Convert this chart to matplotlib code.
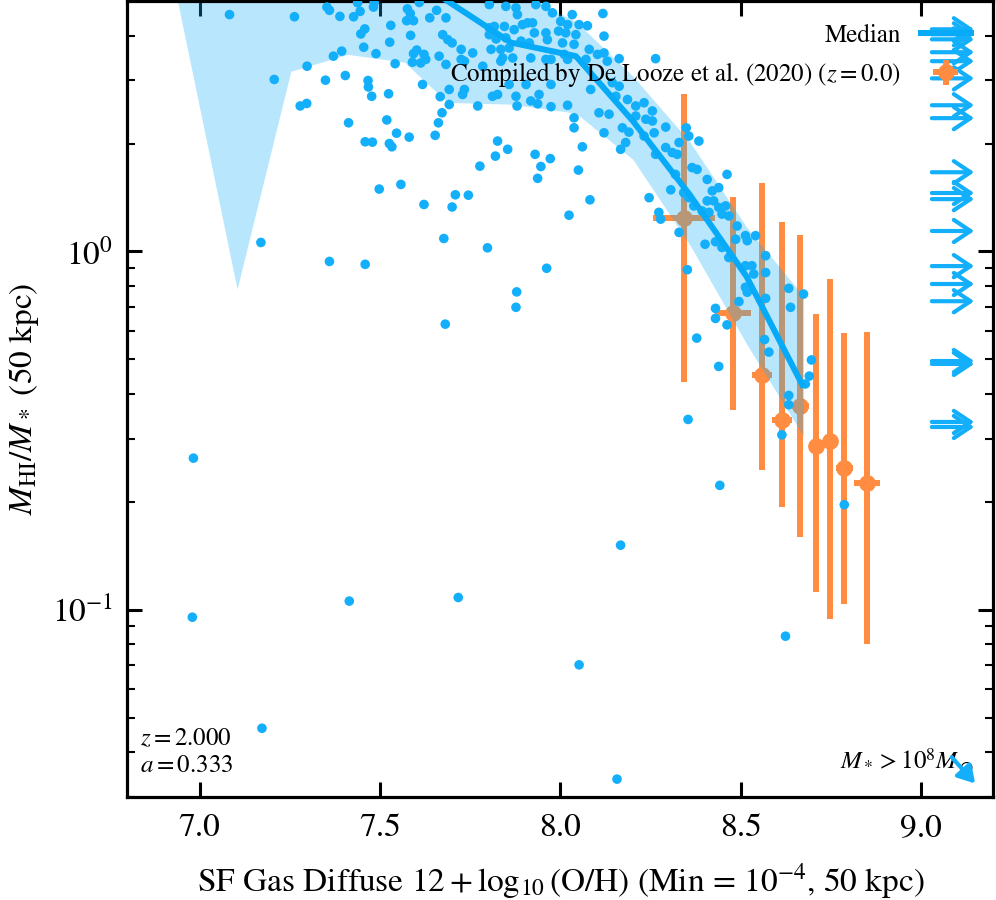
import numpy as np
import matplotlib
matplotlib.use("Agg")
import matplotlib.pyplot as plt
from matplotlib.lines import Line2D

plt.rcParams['font.family'] = ['STIXGeneral', 'DejaVu Serif']
plt.rcParams['mathtext.fontset'] = 'stix'

BLUE = '#14affa'
LINE_BLUE = '#06aaf6'
ORANGE = '#ff8c40'

# ---------------- simulated galaxies (x = 12+log10(O/H), log10 M_HI/M_*) ----------------
sim_x_a = [7.083, 7.263, 7.353, 7.360, 7.389, 7.427, 7.445, 7.438, 7.482, 7.484,
           7.458, 7.447, 7.455, 7.489, 7.530, 7.527, 7.576, 7.584, 7.574, 7.593,
           7.585, 7.609, 7.638, 7.657, 7.602, 7.593, 7.622, 7.590, 7.613, 7.627,
           7.664, 7.394, 7.371, 7.298, 7.207, 7.349, 7.404, 7.467, 7.468, 7.477,
           7.524, 7.542, 7.618, 7.279, 7.297, 7.413, 7.519, 7.546, 7.581, 7.459,
           7.479, 7.526, 7.533, 7.653, 7.662, 7.667,
           7.170, 7.360, 7.459, 7.498, 7.558, 7.622]
sim_logr_a = [0.661, 0.655, 0.682, 0.673, 0.656, 0.655, 0.670, 0.694, 0.682, 0.694,
              0.621, 0.607, 0.570, 0.552, 0.631, 0.584, 0.677, 0.664, 0.644, 0.644,
              0.603, 0.695, 0.652, 0.673, 0.562, 0.552, 0.550, 0.528, 0.526, 0.536,
              0.545, 0.559, 0.545, 0.517, 0.480, 0.478, 0.491, 0.477, 0.459, 0.433,
              0.440, 0.524, 0.466, 0.406, 0.413, 0.359, 0.367, 0.330, 0.319, 0.306,
              0.305, 0.301, 0.292, 0.324, 0.359, 0.432,
              0.025, -0.028, -0.036, 0.174, 0.187, 0.131]

sim_x_b = [7.683, 7.674, 7.688, 7.700, 7.725, 7.757, 7.683, 7.725, 7.734, 7.785,
           7.803, 7.849, 7.877, 7.881, 7.932, 7.960, 7.978, 8.033,
           7.803, 7.817, 7.845, 7.872, 7.895, 7.909, 7.923, 7.928, 7.960, 7.964,
           8.001, 8.020, 8.052, 8.075, 7.995, 8.015, 8.043,
           7.803, 7.822, 7.849, 7.891, 7.914, 8.006, 8.038,
           7.808, 7.835, 7.858, 7.840, 7.835, 7.868, 7.918, 7.960, 7.974, 8.011,
           8.020, 8.080, 8.103, 8.071,
           7.905, 7.974, 7.941, 7.858, 7.692, 7.734, 7.729, 7.812, 7.826, 7.877,
           7.918, 7.937, 7.974, 8.020, 8.084, 7.771, 7.880, 7.692, 7.672, 8.038,
           8.038]
sim_logr_b = [0.652, 0.605, 0.591, 0.582, 0.564, 0.554, 0.522, 0.536, 0.531, 0.517,
              0.689, 0.684, 0.680, 0.661, 0.689, 0.684, 0.666, 0.661,
              0.624, 0.628, 0.628, 0.619, 0.633, 0.638, 0.638, 0.610, 0.610, 0.591,
              0.642, 0.633, 0.633, 0.630, 0.615, 0.610, 0.605,
              0.605, 0.593, 0.596, 0.587, 0.582, 0.582, 0.578,
              0.564, 0.564, 0.568, 0.540, 0.531, 0.540, 0.540, 0.536, 0.536, 0.550,
              0.536, 0.564, 0.550, 0.536,
              0.466, 0.466, 0.438, 0.466, 0.452, 0.452, 0.438, 0.433, 0.438, 0.433,
              0.420, 0.412, 0.404, 0.408, 0.452, 0.406, 0.406, 0.410, 0.387, 0.373,
              0.345]

sim_x_c = [8.118, 8.121, 8.121, 8.130, 8.163, 8.264, 8.144, 8.163, 8.154, 8.186,
           8.209, 8.232, 8.255, 8.107, 8.135, 8.209, 8.237, 8.255, 8.172, 8.190,
           8.121, 8.232, 8.260, 8.292, 8.349, 8.356,
           7.826, 7.854, 7.820, 7.777, 7.930, 7.972, 7.946, 7.937, 8.061, 8.050,
           7.709, 7.745, 7.700, 8.082, 8.024, 7.677, 7.798, 7.962, 7.879, 7.877,
           7.681]
sim_logr_c = [0.664, 0.601, 0.554, 0.531, 0.538, 0.538, 0.471, 0.461, 0.433, 0.424,
              0.406, 0.415, 0.392, 0.387, 0.383, 0.378, 0.369, 0.364, 0.345, 0.333,
              0.331, 0.322, 0.331, 0.347, 0.345, 0.322,
              0.308, 0.285, 0.266, 0.238, 0.271, 0.259, 0.237, 0.204, 0.292, 0.227,
              0.158, 0.157, 0.124, 0.144, 0.101, 0.036, 0.010, -0.047, -0.113, -0.156,
              -0.203]

sim_x_d = [8.181, 8.167, 8.264, 8.292, 8.310, 8.324, 8.329, 8.384, 8.365, 8.379,
           8.319, 8.462, 8.407, 8.306, 8.246, 8.421, 8.439, 8.342, 8.356, 8.407,
           8.425, 8.370, 8.393, 8.412, 8.439, 8.458, 8.448, 8.467, 8.273, 8.278,
           8.329, 8.490, 8.513, 8.541, 8.518, 8.486, 8.401, 8.430, 8.448, 8.467,
           8.569, 8.513, 8.531, 8.536, 8.569, 8.352, 8.513, 8.518, 8.633, 8.674,
           8.638, 8.569, 8.495, 8.430, 8.430, 8.462, 8.378, 8.566, 8.578, 8.439,
           8.696, 8.690, 8.679, 8.633, 8.633, 8.354, 8.614]
sim_logr_d = [0.304, 0.285, 0.271, 0.290, 0.276, 0.271, 0.304, 0.308, 0.234, 0.229,
              0.215, 0.215, 0.201, 0.172, 0.150, 0.169, 0.178, 0.164, 0.150, 0.141,
              0.141, 0.127, 0.113, 0.109, 0.123, 0.127, 0.104, 0.099, 0.109, 0.090,
              0.053, 0.071, 0.044, 0.044, 0.030, 0.034, 0.020, 0.027, 0.011, -0.017,
              -0.012, -0.040, -0.040, -0.063, -0.059, -0.051, -0.100, -0.114, -0.103, -0.119,
              -0.156, -0.131, -0.140, -0.159, -0.187, -0.205, -0.242, -0.246, -0.281, -0.321,
              -0.303, -0.348, -0.370, -0.402, -0.428, -0.469, -0.512]

sim_x_e = [6.983, 6.980, 7.415, 7.717, 7.173, 8.052, 8.157, 8.167, 8.624, 8.442, 8.787]
sim_logr_e = [-0.577, -1.021, -0.976, -0.966, -1.331, -1.154, -1.473, -0.820, -1.074, -0.653, -0.707]

# galaxies with metallicity beyond the plotted range (drawn as arrows at the right edge)
offscale_logr = [0.620, 0.606, 0.592, 0.556, 0.531, 0.483, 0.408, 0.372, 0.221, 0.163,
                 0.146, 0.057, -0.041, -0.091, -0.139, -0.306, -0.314, -0.476, -0.490]

# ---------------- binned median and percentile band ----------------
med_x = [7.513, 7.681, 7.863, 8.043, 8.201, 8.358, 8.516, 8.674]
med_logr = [0.871, 0.703, 0.583, 0.545, 0.364, 0.159, -0.070, -0.379]

band_x = [6.93, 7.104, 7.253, 7.411, 7.568, 7.687, 7.863, 8.043, 8.201, 8.358, 8.516, 8.674]
band_lo_logr = [0.742, -0.105, 0.503, 0.550, 0.528, 0.416, 0.411, 0.386, 0.257, 0.020, -0.258, -0.515]
band_hi_logr = [0.90, 0.90, 0.90, 0.90, 0.90, 0.85, 0.731, 0.642, 0.489, 0.307, 0.068, -0.125]

# ---------------- observations: De Looze et al. (2020) ----------------
obs_x = [8.343, 8.479, 8.559, 8.614, 8.665, 8.708, 8.746, 8.787, 8.850]
obs_y = [1.238, 0.673, 0.452, 0.339, 0.371, 0.287, 0.295, 0.249, 0.226]
obs_hi = [2.745, 1.423, 1.557, 1.209, 1.110, 0.669, 0.837, 0.591, 0.594]
obs_lo = [0.433, 0.362, 0.245, 0.193, 0.160, 0.112, 0.094, 0.104, 0.080]
obs_xerr = [0.086, 0.050, 0.028, 0.027, 0.023, 0.010, 0.010, 0.023, 0.035]

xticks = [7.0, 7.5, 8.0, 8.5, 9.0]

# ---------------- figure ----------------
fig = plt.figure(figsize=(9.96, 9.0), dpi=100)
ax = fig.add_axes([127.4 / 996, 1 - 797 / 900, (993.3 - 127.4) / 996, 796 / 900])

sim_x = np.array(sim_x_a + sim_x_b + sim_x_c + sim_x_d + sim_x_e)
sim_y = 10 ** np.array(sim_logr_a + sim_logr_b + sim_logr_c + sim_logr_d + sim_logr_e)

oy = np.array(obs_y)
ax.errorbar(obs_x, oy, yerr=[oy - np.array(obs_lo), np.array(obs_hi) - oy], xerr=obs_xerr,
            fmt='o', color=ORANGE, ms=11, elinewidth=4.3, capsize=0, zorder=1)

ax.fill_between(band_x, 10 ** np.array(band_lo_logr), 10 ** np.array(band_hi_logr),
                color=BLUE, alpha=0.3, lw=0, zorder=2)
ax.scatter(sim_x, sim_y, s=48, color=BLUE, edgecolors='none', zorder=3)
ax.plot(med_x, 10 ** np.array(med_logr), color=LINE_BLUE, lw=4.3, zorder=4,
        solid_capstyle='butt')

ytr = ax.get_yaxis_transform()
for lr in offscale_logr:
    ax.annotate('', xy=(0.978, 10 ** lr), xytext=(0.929, 10 ** lr), xycoords=ytr,
                textcoords=ytr,
                arrowprops=dict(arrowstyle='->,head_length=0.6,head_width=0.4',
                                color=BLUE, lw=3.0, mutation_scale=20,
                                shrinkA=0, shrinkB=0), zorder=5)

ax.annotate('', xy=(0.979, 0.017), xytext=(0.952, 0.050), xycoords='axes fraction',
            textcoords='axes fraction',
            arrowprops=dict(arrowstyle='-|>,head_length=0.5,head_width=0.3',
                            color=BLUE, lw=3.0, mutation_scale=20,
                            shrinkA=0, shrinkB=0), zorder=5)

ax.set_yscale('log')
ax.set_xlim(6.8, 9.2)
ax.set_ylim(0.03, 5.0)
ax.set_xticks(xticks)
ax.set_xticklabels([f'{t:.1f}' for t in xticks])

for s in ax.spines.values():
    s.set_linewidth(2.3)
ax.tick_params(which='both', direction='in', top=True, right=True, labelsize=24)
ax.tick_params(which='major', length=10.5, width=2.2, pad=10)
ax.tick_params(axis='x', which='major', pad=12)
ax.tick_params(which='minor', length=5.5, width=1.5)
ax.tick_params(axis='x', which='minor', bottom=False, top=False)

ax.set_xlabel(r'SF Gas Diffuse $12+\log_{10}$(O/H) (Min = $10^{-4}$, 50 kpc)',
              fontsize=24, labelpad=13)
ax.set_ylabel(r'$M_{\rm HI}/M_*$ (50 kpc)', fontsize=24, labelpad=8)

ax.text(0.014, 0.065, '$z=2.000$', transform=ax.transAxes,
        fontsize=18, ha='left', va='baseline')
ax.text(0.014, 0.031, '$a=0.333$', transform=ax.transAxes,
        fontsize=18, ha='left', va='baseline')
ax.text(0.977, 0.034, r'$M_* > 10^8 M_\odot$', transform=ax.transAxes,
        fontsize=18, ha='right', va='baseline')

h_med = Line2D([], [], color=LINE_BLUE, lw=4.3)
h_obs = ax.errorbar([], [], yerr=[], xerr=[], fmt='o', color=ORANGE, ms=11,
                    elinewidth=4.3, capsize=0)
ax.legend([h_med, h_obs], ['Median', r'Compiled by De Looze et al. (2020) ($z=0.0$)'],
          loc='upper right', markerfirst=False, frameon=False, fontsize=18,
          handlelength=2.0, labelspacing=0.5)

fig.savefig('out.png', dpi=100, facecolor='white')
